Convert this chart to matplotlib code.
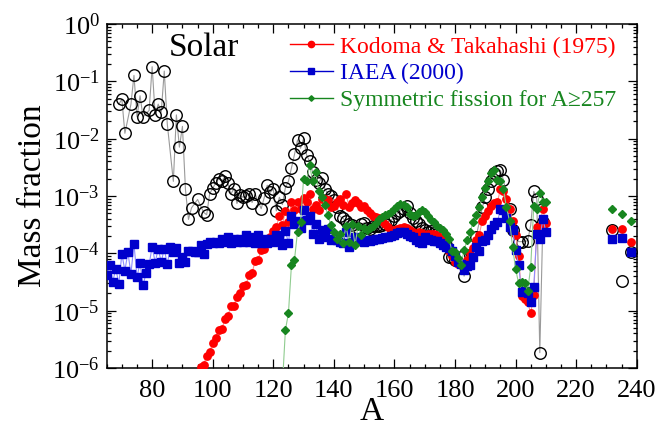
import matplotlib
matplotlib.use("Agg")
import matplotlib.pyplot as plt
from matplotlib.lines import Line2D
from matplotlib.ticker import LogLocator, MultipleLocator, NullFormatter

plt.rcParams['font.family'] = ['Liberation Serif', 'DejaVu Serif']
plt.rcParams['mathtext.fontset'] = 'custom'
plt.rcParams['mathtext.rm'] = 'Liberation Serif'
plt.rcParams['mathtext.it'] = 'Liberation Serif:italic'
plt.rcParams['mathtext.bf'] = 'Liberation Serif:bold'

# ---------------- data ----------------
solar_A = [69, 70, 71, 73, 74, 75, 76, 77, 79, 80, 81, 82, 83, 84, 85, 87, 88, 89, 90, 91,
           92, 93, 95, 97, 98, 99, 100, 101, 102, 103, 104, 105, 106, 107, 108, 109, 110, 111,
           112, 113, 114, 116, 117, 118, 119, 120, 121, 122, 123, 124, 125, 126, 127, 128, 129,
           130, 131, 132, 133, 134, 135, 136, 137, 138, 139, 140, 141, 142, 143, 144, 145, 146,
           147, 148, 149, 150, 151, 152, 153, 154, 155, 156, 157, 158, 159, 160, 161, 162, 163,
           164, 165, 166, 167, 168, 169, 170, 171, 172, 173, 174, 175, 176, 177, 178, 179, 180,
           182, 183, 185, 187, 189, 190, 191, 192, 193, 194, 195, 196, 198, 199, 201, 202, 204,
           205, 206, 207, 208, 209]
solar_X = [0.0397, 0.049, 0.0124, 0.040, 0.127, 0.024, 0.056, 0.024, 0.031, 0.18, 0.026, 0.040,
           0.029, 0.151, 0.018, 0.0018, 0.026, 0.0071, 0.0164, 0.0013,
           3.9e-4, 6.2e-4, 8.7e-4, 5.2e-4, 4.7e-4, 1.1e-3, 1.36e-3, 1.7e-3, 2.0e-3, 1.8e-3, 2.2e-3,
           1.66e-3, 1.08e-3, 1.35e-3, 7.4e-4, 1.04e-3, 9.5e-4, 1.0e-3,
           1.1e-3, 7.7e-4, 1.08e-3, 6.0e-4, 9.3e-4, 1.54e-3, 1.16e-3, 1.32e-3, 5.5e-4, 9.5e-4,
           7.1e-4, 1.4e-3, 1.8e-3, 3.1e-3, 5.3e-3, 9.5e-3, 6.8e-3,
           1.01e-2, 5.2e-3, 4.0e-3, 2.6e-3, 1.9e-3, 1.7e-3, 2.1e-3, 1.35e-3, 1.1e-3, 1.0e-3, 8.5e-4,
           6.5e-4, 4.4e-4, 4.1e-4, 3.6e-4, 3.2e-4, 3.1e-4,
           2.6e-4, 2.8e-4, 3.2e-4, 3.4e-4, 2.8e-4, 2.7e-4, 3.0e-4, 3.0e-4, 3.0e-4, 3.1e-4, 3.3e-4,
           3.6e-4, 3.8e-4, 4.4e-4, 5.0e-4, 5.5e-4, 5.9e-4,
           6.7e-4, 5.0e-4, 4.2e-4, 3.6e-4, 3.2e-4, 2.8e-4, 2.6e-4, 2.4e-4, 2.5e-4, 2.3e-4, 2.2e-4,
           2.1e-4, 1.9e-4, 1.4e-4, 8.7e-5, 8.6e-5, 7.6e-5,
           8.6e-5, 4.0e-5, 9.4e-5, 1.95e-4, 6.3e-4, 9.5e-4, 1.35e-3, 1.8e-3, 2.5e-3, 2.7e-3, 2.8e-3,
           1.9e-3, 5.9e-4, 2.6e-4, 1.6e-4, 1.6e-4, 1.65e-4,
           3.1e-4, 1.2e-3, 8.9e-4, 1.85e-6, 3.5e-4]
solar_A_heavy = [232, 235, 238]
solar_X_heavy = [2.6e-4, 3.3e-5, 1.04e-4]

kt_A = list(range(96, 211))
kt_X = [1.05e-6, 1.15e-6, 1.6e-6, 1.9e-6, 2.7e-6, 3.4e-6, 4.6e-6, 4.7e-6, 7.1e-6, 8.1e-6,      # 96-105
        1.2e-5, 1.23e-5, 1.75e-5, 2.0e-5, 2.7e-5, 2.85e-5, 4.2e-5, 4.5e-5, 7.4e-5, 7.7e-5,     # 106-115
        1.15e-4, 1.2e-4, 1.76e-4, 1.9e-4, 2.5e-4, 2.9e-4, 4.5e-4, 3.1e-4, 5.5e-4, 3.5e-4,      # 116-125
        8.0e-4, 5.7e-4, 8.0e-4, 6.0e-4, 9.1e-4, 8.0e-4, 1.1e-3, 5.9e-4, 7.0e-4, 5.7e-4,        # 126-135
        8.7e-4, 9.0e-4, 8.5e-4, 6.3e-4, 6.7e-4, 8.0e-4, 9.0e-4, 7.0e-4, 1.1e-3, 6.5e-4,        # 136-145
        7.4e-4, 8.5e-4, 7.5e-4, 6.3e-4, 6.7e-4, 5.7e-4, 5.1e-4, 4.4e-4, 4.3e-4, 4.1e-4,        # 146-155
        3.6e-4, 3.2e-4, 2.9e-4, 2.5e-4, 2.6e-4, 2.7e-4, 2.8e-4, 2.9e-4, 2.8e-4, 2.6e-4,        # 156-165
        2.4e-4, 2.2e-4, 2.4e-4, 2.3e-4, 2.1e-4, 2.2e-4, 2.2e-4, 2.2e-4, 2.1e-4, 1.9e-4,        # 166-175
        1.7e-4, 1.4e-4, 1.1e-4, 9.0e-5, 7.1e-5, 6.5e-5, 6.3e-5, 6.0e-5, 7.7e-5, 1.0e-4,        # 176-185
        1.24e-4, 1.7e-4, 2.1e-4, 3.7e-4, 4.5e-4, 5.5e-4, 6.7e-4, 7.4e-4, 7.9e-4, 1.3e-3,       # 186-195
        1.24e-3, 8.7e-4, 5.9e-4, 3.7e-4, 2.1e-4, 8.9e-5, 1.8e-5, 1.6e-5, 1.4e-5, 9.0e-6,       # 196-205
        1.9e-5, 2.9e-4, 3.0e-4, 5.9e-4, 3.4e-4]                                                # 206-210
kt_A_heavy = [232, 235, 238]
kt_X_heavy = [2.7e-4, 2.7e-4, 1.56e-4]

iaea_A = list(range(65, 211))
iaea_X = [4.2e-5, 6.3e-5, 3.2e-5, 5.4e-5, 2.95e-5, 9.8e-5, 5.0e-5, 1.04e-4, 4.4e-5, 1.46e-4,   # 65-74
          3.8e-5, 6.9e-5, 2.8e-5, 4.5e-5, 6.4e-5, 1.31e-4, 6.9e-5, 1.2e-4, 7.1e-5, 1.2e-4,     # 75-84
          6.4e-5, 1.31e-4, 1.07e-4, 1.26e-4, 6.8e-5, 8.7e-5, 7.1e-5, 1.12e-4, 1.1e-4, 1.07e-4, # 85-94
          1.06e-4, 1.4e-4, 9.7e-5, 1.46e-4, 1.55e-4, 1.5e-4, 1.6e-4, 1.5e-4, 1.75e-4, 1.55e-4, # 95-104
          1.9e-4, 1.5e-4, 1.75e-4, 1.6e-4, 1.8e-4, 1.55e-4, 2.1e-4, 1.55e-4, 1.95e-4, 1.5e-4,  # 105-114
          2.1e-4, 1.5e-4, 1.75e-4, 1.5e-4, 1.75e-4, 1.55e-4, 2.1e-4, 1.85e-4, 1.4e-4, 2.5e-4,  # 115-124
          1.5e-4, 4.5e-4, 3.3e-4, 3.7e-4, 2.8e-4, 5.6e-4, 3.8e-4, 4.4e-4, 2.2e-4, 3.2e-4,      # 125-134
          1.8e-4, 2.6e-4, 1.9e-4, 2.7e-4, 1.7e-4, 1.75e-4, 1.7e-4, 1.55e-4, 1.5e-4, 2.4e-4,    # 135-144
          1.3e-4, 1.6e-4, 1.9e-4, 1.7e-4, 1.8e-4, 1.6e-4, 1.7e-4, 1.65e-4, 1.7e-4, 1.75e-4,    # 145-154
          1.8e-4, 1.85e-4, 1.9e-4, 1.95e-4, 2.0e-4, 2.1e-4, 2.3e-4, 2.4e-4, 2.4e-4, 2.2e-4,    # 155-164
          2.0e-4, 1.9e-4, 1.7e-4, 1.6e-4, 1.5e-4, 1.95e-4, 1.8e-4, 1.7e-4, 1.66e-4, 1.66e-4,   # 165-174
          1.5e-4, 1.4e-4, 1.3e-4, 1.24e-4, 1.1e-4, 9.0e-5, 7.1e-5, 6.6e-5, 5.1e-5, 5.9e-5,     # 175-184
          6.3e-5, 8.5e-5, 1.3e-4, 1.1e-4, 1.66e-4, 1.7e-4, 2.1e-4, 2.7e-4, 3.1e-4, 3.5e-4,     # 185-194
          5.9e-4, 5.8e-4, 4.2e-4, 2.9e-4, 2.55e-4, 1.15e-4, 6.3e-5, 2.1e-5, 2.2e-5, 2.0e-5,    # 195-204
          1.4e-5, 2.6e-5, 2.2e-4, 1.75e-4, 4.0e-4, 2.4e-4]                                     # 205-210
iaea_A_heavy = [232, 235, 238]
iaea_X_heavy = [1.78e-4, 1.87e-4, 1.04e-4]

sym_A = list(range(123, 211))
sym_X = [5.0e-7, 4.6e-6, 9.0e-6, 6.3e-5, 7.7e-5, 2.4e-4, 3.5e-4, 2.0e-3,                        # 123-130
         1.8e-3, 3.5e-3, 1.8e-3, 2.65e-3, 1.2e-3, 9.7e-4, 7.0e-4, 4.7e-4, 3.1e-4, 2.4e-4,      # 131-140
         1.8e-4, 2.2e-4, 1.5e-4, 3.0e-4, 1.6e-4, 3.2e-4, 1.4e-4, 3.0e-4, 2.1e-4, 2.8e-4,       # 141-150
         2.55e-4, 2.8e-4, 3.0e-4, 3.4e-4, 3.9e-4, 4.3e-4, 4.6e-4, 4.9e-4, 5.3e-4, 6.0e-4,      # 151-160
         6.7e-4, 7.3e-4, 7.0e-4, 6.5e-4, 4.9e-4, 4.4e-4, 4.7e-4, 5.3e-4, 5.7e-4, 5.2e-4,       # 161-170
         4.4e-4, 3.8e-4, 3.5e-4, 3.0e-4, 2.8e-4, 2.55e-4, 2.2e-4, 1.8e-4, 1.1e-4, 1.05e-4,     # 171-180
         8.2e-5, 6.3e-5, 1.15e-4, 1.7e-4, 2.4e-4, 3.5e-4, 4.7e-4, 6.3e-4, 9.5e-4, 1.36e-3,     # 181-190
         1.8e-3, 2.5e-3, 2.8e-3, 1.9e-3, 1.8e-3, 1.3e-3, 6.3e-4, 3.7e-4, 1.3e-4, 5.4e-5,       # 191-200
         3.0e-5, 3.1e-5, 3.0e-5, 2.2e-5, 5.8e-5, 6.7e-4, 5.9e-4, 1.15e-3, 7.9e-4, 7.9e-4]      # 201-210
sym_A = sym_A[:len(sym_X)]
sym_A_heavy = [232, 235, 238]
sym_X_heavy = [5.9e-4, 4.8e-4, 3.7e-4]

labels = ["Kodoma & Takahashi (1975)", "IAEA (2000)", "Symmetric fission for A\u2265257"]

# ---------------- plot ----------------
fig = plt.figure(figsize=(6.72, 4.30), dpi=100)
ax = fig.add_axes([0.1588, 0.1442, 0.7887, 0.800])

red_c, red_l = '#ff0000', '#ff9090'
blu_c, blu_l = '#0000cc', '#8c8cff'
grn_c, grn_l = '#17861f', '#8fcc8f'

ax.plot(solar_A, solar_X, '-', color='#9a9a9a', lw=0.8, zorder=1)
ax.plot(solar_A, solar_X, 'o', ms=8.3, mfc='none', mec='black', mew=1.0, zorder=2)
ax.plot(solar_A_heavy, solar_X_heavy, 'o', ms=8.3, mfc='none', mec='black', mew=1.0, zorder=2)

ax.plot(kt_A, kt_X, '-', color=red_l, lw=0.8, zorder=3)
ax.plot(kt_A, kt_X, 'o', ms=5.3, color=red_c, mec=red_c, zorder=4)
ax.plot(kt_A_heavy, kt_X_heavy, 'o', ms=5.3, color=red_c, zorder=4)

ax.plot(iaea_A, iaea_X, '-', color=blu_l, lw=0.8, zorder=5)
ax.plot(iaea_A, iaea_X, 's', ms=5.5, color=blu_c, zorder=6)
ax.plot(iaea_A_heavy, iaea_X_heavy, 's', ms=5.5, color=blu_c, zorder=6)

ax.plot(sym_A, sym_X, '-', color=grn_l, lw=0.8, zorder=7)
ax.plot(sym_A, sym_X, 'D', ms=3.6, color=grn_c, zorder=8)
ax.plot(sym_A_heavy, sym_X_heavy, 'D', ms=3.6, color=grn_c, zorder=8)

ax.set_yscale('log')
ax.set_xlim(65, 240)
ax.set_ylim(1e-6, 1)

ax.xaxis.set_major_locator(MultipleLocator(20))
ax.xaxis.set_minor_locator(MultipleLocator(5))
ax.yaxis.set_major_locator(LogLocator(base=10, numticks=10))
ax.yaxis.set_minor_locator(LogLocator(base=10, subs=range(2, 10), numticks=20))
ax.yaxis.set_minor_formatter(NullFormatter())

ax.tick_params(which='both', direction='in', top=True, right=True, width=0.9)
ax.tick_params(which='major', length=6.5, labelsize=19)
ax.tick_params(axis='x', which='major', pad=9)
ax.tick_params(axis='y', which='major', pad=5)
ax.tick_params(which='minor', length=3.2)
for s in ax.spines.values():
    s.set_linewidth(1.1)

ax.set_xlabel('A', fontsize=24, labelpad=-4)
ax.set_ylabel('Mass fraction', fontsize=24, labelpad=3)

ax.text(0.184, 0.93, 'Solar', transform=ax.transAxes, fontsize=24,
        ha='center', va='center')

handles = [Line2D([], [], color=red_c, marker='o', ms=4.5, lw=1.0),
           Line2D([], [], color=blu_c, marker='s', ms=4.5, lw=1.0),
           Line2D([], [], color=grn_c, marker='D', ms=2.8, lw=1.0)]
leg = ax.legend(handles, labels, loc='upper left', bbox_to_anchor=(0.346, 0.965),
                frameon=False, fontsize=17, handlelength=1.8, handletextpad=0.3,
                labelspacing=0.22, borderpad=0, borderaxespad=0)
for t, c in zip(leg.get_texts(), [red_c, blu_c, grn_c]):
    t.set_color(c)

fig.savefig('out.png', dpi=100)
